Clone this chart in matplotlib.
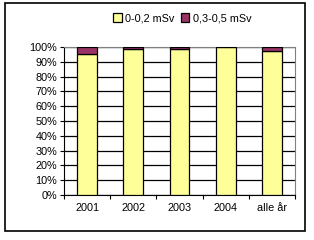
import numpy as np
import matplotlib

matplotlib.use("Agg")
import matplotlib.pyplot as plt
from matplotlib.patches import Rectangle

plt.rcParams["font.family"] = ["Liberation Sans", "DejaVu Sans"]

categories = ["2001", "2002", "2003", "2004", "alle år"]
low_dose = [95.0, 98.5, 98.5, 100.0, 97.5]
high_dose = [5.0, 1.5, 1.5, 0.0, 2.5]
series_labels = ["0-0,2 mSv", "0,3-0,5 mSv"]
colors = ["#FFFF99", "#993366"]

fig = plt.figure(figsize=(3.14, 2.4), dpi=100)
fig.patches.append(
    Rectangle((5 / 314, 9 / 240), 300 / 314, 228 / 240, transform=fig.transFigure,
              fill=False, edgecolor="black", linewidth=1.2)
)
ax = fig.add_axes([64 / 314, 45 / 240, 231 / 314, 148 / 240])

x = np.arange(len(categories))
ax.bar(x, low_dose, width=0.43, color=colors[0], edgecolor="black", linewidth=0.9,
       label=series_labels[0], zorder=3)
ax.bar(x, high_dose, width=0.43, bottom=low_dose, color=colors[1], edgecolor="black",
       linewidth=0.9, label=series_labels[1], zorder=3)

ax.set_xlim(-0.5, len(categories) - 0.5)
ax.set_ylim(0, 100)
ax.set_yticks(np.arange(0, 101, 10))
ax.set_yticklabels([f"{v}%" for v in range(0, 101, 10)], fontsize=7.8)
ax.set_xticks(x)
ax.set_xticklabels(categories, fontsize=7.8)
ax.set_xticks(np.arange(-0.5, len(categories)), minor=True)
ax.tick_params(axis="x", which="major", length=0, pad=6)
ax.tick_params(axis="x", which="minor", length=3, direction="out", width=0.8)
ax.tick_params(axis="y", length=3, direction="out", width=0.8, pad=2)

ax.grid(axis="y", color="black", linewidth=0.9, zorder=0)
for side in ["top", "right"]:
    ax.spines[side].set_color("#808080")
for side in ["left", "bottom"]:
    ax.spines[side].set_color("black")

fig.legend(loc="upper center", bbox_to_anchor=(0.58, 0.985), ncol=2, frameon=False,
           fontsize=7.8, handlelength=0.8, handleheight=0.8, handletextpad=0.3,
           columnspacing=0.6)

fig.savefig("out.png", dpi=100)
